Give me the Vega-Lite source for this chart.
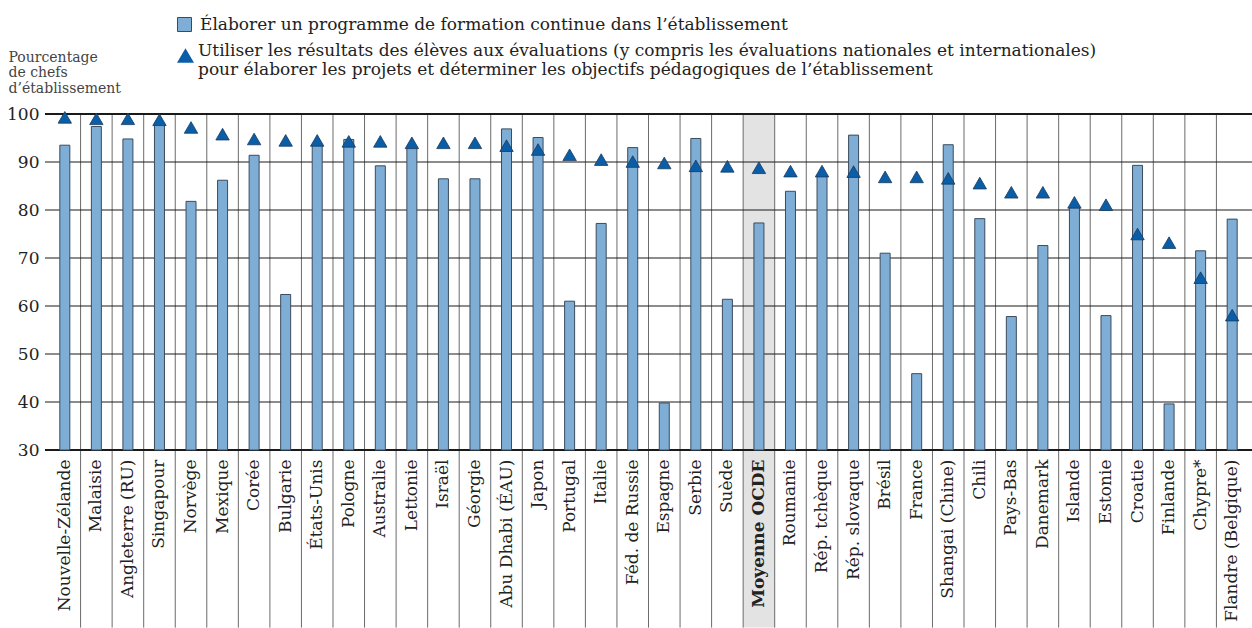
{
  "$schema": "https://vega.github.io/schema/vega-lite/v6.json",
  "width": 1207,
  "height": 336,
  "autosize": {"type": "none"},
  "padding": {"left": 45, "top": 114, "right": 0, "bottom": 178},
  "background": "white",
  "config": {
    "view": {"stroke": null},
    "font": "DejaVu Serif"
  },
  "datasets": {
    "pays": [
      {"pays": "Nouvelle-Zélande", "prog": 93.5, "eval": 99.3},
      {"pays": "Malaisie", "prog": 97.4, "eval": 99.0},
      {"pays": "Angleterre (RU)", "prog": 94.8, "eval": 99.0},
      {"pays": "Singapour", "prog": 98.1, "eval": 98.8},
      {"pays": "Norvège", "prog": 81.8, "eval": 97.2},
      {"pays": "Mexique", "prog": 86.2, "eval": 95.8},
      {"pays": "Corée", "prog": 91.4, "eval": 94.8},
      {"pays": "Bulgarie", "prog": 62.4, "eval": 94.5},
      {"pays": "États-Unis", "prog": 93.7, "eval": 94.5},
      {"pays": "Pologne", "prog": 94.7, "eval": 94.3},
      {"pays": "Australie", "prog": 89.2, "eval": 94.3},
      {"pays": "Lettonie", "prog": 93.0, "eval": 94.0},
      {"pays": "Israël", "prog": 86.5, "eval": 94.0},
      {"pays": "Géorgie", "prog": 86.5, "eval": 94.0},
      {"pays": "Abu Dhabi (ÉAU)", "prog": 96.9, "eval": 93.4},
      {"pays": "Japon", "prog": 95.1, "eval": 92.6},
      {"pays": "Portugal", "prog": 61.0, "eval": 91.5},
      {"pays": "Italie", "prog": 77.2, "eval": 90.5},
      {"pays": "Féd. de Russie", "prog": 93.0, "eval": 90.1},
      {"pays": "Espagne", "prog": 39.8, "eval": 89.8},
      {"pays": "Serbie", "prog": 94.9, "eval": 89.2},
      {"pays": "Suède", "prog": 61.4, "eval": 89.1},
      {"pays": "Moyenne OCDE", "prog": 77.3, "eval": 88.8},
      {"pays": "Roumanie", "prog": 83.9, "eval": 88.1},
      {"pays": "Rép. tchèque", "prog": 87.3, "eval": 88.1},
      {"pays": "Rép. slovaque", "prog": 95.6, "eval": 88.0},
      {"pays": "Brésil", "prog": 71.0, "eval": 86.9},
      {"pays": "France", "prog": 45.9, "eval": 86.9},
      {"pays": "Shangai (Chine)", "prog": 93.6, "eval": 86.6},
      {"pays": "Chili", "prog": 78.2, "eval": 85.6},
      {"pays": "Pays-Bas", "prog": 57.8, "eval": 83.7},
      {"pays": "Danemark", "prog": 72.6, "eval": 83.7},
      {"pays": "Islande", "prog": 80.8, "eval": 81.6},
      {"pays": "Estonie", "prog": 58.0, "eval": 81.1},
      {"pays": "Croatie", "prog": 89.3, "eval": 75.0},
      {"pays": "Finlande", "prog": 39.6, "eval": 73.2},
      {"pays": "Chypre*", "prog": 71.5, "eval": 65.9},
      {"pays": "Flandre (Belgique)", "prog": 78.1, "eval": 58.1}
    ]
  },
  "data": {"name": "pays"},
  "layer": [
    {
      "transform": [{"filter": "datum.pays == 'Moyenne OCDE'"}],
      "mark": {"type": "rect", "color": "#e3e3e3"},
      "encoding": {
        "x": {"field": "pays", "type": "nominal", "sort": null,
          "scale": {"paddingInner": 0, "paddingOuter": 0.128, "domain": {"data": "pays", "field": "pays"}},
          "axis": {"title": null, "orient": "bottom", "labelAngle": -90, "labelFont": "DejaVu Serif", "labelFontSize": 17, "labelColor": "#222222", "ticks": false, "domain": false, "labelPadding": 9, "labelLimit": 0, "zindex": 1,
            "labelFontWeight": {"condition": {"test": "datum.value == 'Moyenne OCDE'", "value": "bold"}, "value": "normal"}}},
        "y": {"datum": 100, "type": "quantitative", "scale": {"domain": [30, 100], "nice": false, "zero": false},
          "axis": {"values": [30, 40, 50, 60, 70, 80, 90, 100], "grid": false, "ticks": false, "domain": false, "labelFont": "DejaVu Serif", "labelFontSize": 17, "labelColor": "#222222", "labelPadding": 6,
            "title": ["Pourcentage", "de chefs", "d’établissement"], "titleAngle": 0, "titleAlign": "left", "titleBaseline": "alphabetic", "titleX": -37, "titleY": -53, "titleFont": "DejaVu Serif", "titleFontSize": 14, "titleFontWeight": "normal", "titleColor": "#444444", "titleLineHeight": 15.5}},
        "y2": {"datum": -7}
      }
    },
    {
      "transform": [{"filter": "datum.pays != 'Nouvelle-Zélande'"}],
      "mark": {"type": "rule", "color": "#6b6b6b", "strokeWidth": 1},
      "encoding": {
        "x": {"field": "pays", "type": "nominal", "sort": null, "bandPosition": 0},
        "y": {"datum": 100, "type": "quantitative"},
        "y2": {"datum": -7}
      }
    },
    {
      "data": {"values": [{"v": 40}, {"v": 50}, {"v": 60}, {"v": 70}, {"v": 80}, {"v": 90}]},
      "mark": {"type": "rule", "color": "#1a1a1a", "strokeWidth": 1},
      "encoding": {
        "y": {"field": "v", "type": "quantitative"}
      }
    },
    {
      "data": {"values": [{"v": 30}, {"v": 100}]},
      "mark": {"type": "rule", "color": "#1a1a1a", "strokeWidth": 2.2},
      "encoding": {
        "y": {"field": "v", "type": "quantitative"}
      }
    },
    {
      "mark": {"type": "bar", "width": 10, "stroke": "#3c4b5c", "strokeWidth": 1},
      "encoding": {
        "x": {"field": "pays", "type": "nominal", "sort": null},
        "y": {"field": "prog", "type": "quantitative"},
        "y2": {"datum": 30},
        "color": {"datum": "Élaborer un programme de formation continue dans l’établissement", "type": "nominal",
          "scale": {"range": ["#7eaed6"]},
          "legend": {"orient": "none", "legendX": 131, "legendY": -98, "title": null, "padding": 0, "symbolType": "square", "symbolSize": 196, "symbolStrokeColor": "#3c4b5c", "symbolStrokeWidth": 1, "labelFont": "DejaVu Serif", "labelFontSize": 17, "labelColor": "#222222", "labelOffset": 7, "labelLimit": 0}}
      }
    },
    {
      "mark": {"type": "point", "shape": "triangle-up", "filled": true, "fill": "#0a5ea8", "stroke": "#1b3a5c", "strokeWidth": 0.8, "size": 180, "opacity": 1},
      "encoding": {
        "x": {"field": "pays", "type": "nominal", "sort": null},
        "y": {"field": "eval", "type": "quantitative"},
        "shape": {"datum": "Utiliser", "type": "nominal",
          "scale": {"range": ["triangle-up"]},
          "legend": {"orient": "none", "legendX": 131.5, "legendY": -67.5, "title": null, "padding": 0, "symbolSize": 289, "symbolFillColor": "#0a5ea8", "symbolStrokeColor": "#1b3a5c", "symbolStrokeWidth": 0.8, "labelFont": "DejaVu Serif", "labelFontSize": 17, "labelColor": "#222222", "labelOffset": 3.5, "labelLimit": 0, "labelBaseline": "alphabetic", "labelLineHeight": 19,
            "labelExpr": "['Utiliser les résultats des élèves aux évaluations (y compris les évaluations nationales et internationales)', 'pour élaborer les projets et déterminer les objectifs pédagogiques de l’établissement']",
            "encode": {"labels": {"dy": {"value": 3}}}}}
      }
    }
  ]
}
